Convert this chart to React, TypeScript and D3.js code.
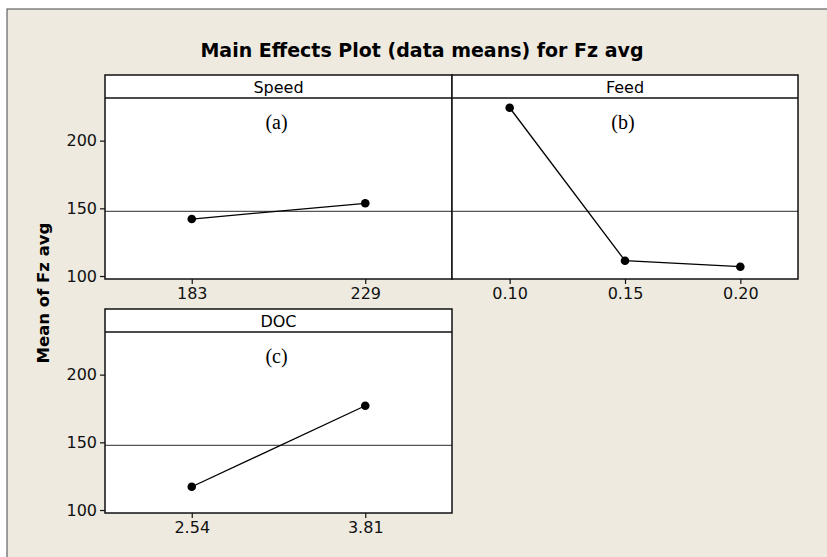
import * as React from 'react';
import * as d3 from 'd3';

// Main effects plot (data means) for Fz avg
const speedLevels = ['183', '229'];
const speedMeans = [142.1, 153.7];
const feedLevels = ['0.10', '0.15', '0.20'];
const feedMeans = [224.3, 111.3, 106.9];
const docLevels = ['2.54', '3.81'];
const docMeans = [117.2, 177.0];
const grandMean = 147.7;
const yTicks = [100, 150, 200];

const panels = [
  { name: 'Speed', tag: '(a)', levels: speedLevels, means: speedMeans, col: 0, row: 0 },
  { name: 'Feed', tag: '(b)', levels: feedLevels, means: feedMeans, col: 1, row: 0 },
  { name: 'DOC', tag: '(c)', levels: docLevels, means: docMeans, col: 0, row: 1 },
];

export default function App() {
  const ref = React.useRef<SVGSVGElement>(null);

  React.useEffect(() => {
    document.body.style.margin = '0';
    const svg = d3.select(ref.current);
    svg.selectAll('*').remove();

    const W = 827, H = 557;
    svg.append('rect').attr('width', W).attr('height', H).attr('fill', '#fff');
    svg.append('rect')
      .attr('x', 7).attr('y', 9).attr('width', W).attr('height', H)
      .attr('fill', '#eeeae0').attr('stroke', '#444').attr('stroke-width', 1);

    const font = 'DejaVu Sans, Verdana, sans-serif';

    svg.append('text')
      .attr('x', 422).attr('y', 57)
      .attr('text-anchor', 'middle')
      .style('font-family', font).style('font-weight', 'bold').style('font-size', '19px')
      .text('Main Effects Plot (data means) for Fz avg');

    svg.append('text')
      .attr('transform', 'translate(43,293) rotate(-90)')
      .attr('text-anchor', 'middle').attr('dominant-baseline', 'central')
      .style('font-family', font).style('font-weight', 'bold').style('font-size', '16.5px')
      .text('Mean of Fz avg');

    const colX = [105, 452, 798];
    const rowTop = [75, 309];
    const stripH = 23;
    const plotH = 181;

    panels.forEach((p) => {
      const x0 = colX[p.col], x1 = colX[p.col + 1];
      const top = rowTop[p.row];
      const pTop = top + stripH, pBot = pTop + plotH;

      const x = d3.scalePoint<string>().domain(p.levels).range([x0, x1]).padding(0.5);
      const y = d3.scaleLinear().domain([97.8, 231.5]).range([pBot, pTop]);

      const g = svg.append('g');
      g.append('rect')
        .attr('x', x0).attr('y', pTop).attr('width', x1 - x0).attr('height', plotH)
        .attr('fill', '#fff');
      g.append('rect')
        .attr('x', x0).attr('y', top).attr('width', x1 - x0).attr('height', stripH)
        .attr('fill', '#fff');

      g.append('text')
        .attr('x', (x0 + x1) / 2).attr('y', top + stripH / 2 + 1)
        .attr('text-anchor', 'middle').attr('dominant-baseline', 'central')
        .style('font-family', font).style('font-size', '16px')
        .text(p.name);

      g.append('text')
        .attr('x', (x0 + x1) / 2 - 2).attr('y', pTop + 24)
        .attr('text-anchor', 'middle').attr('dominant-baseline', 'central')
        .style('font-family', 'Liberation Serif, Times New Roman, serif').style('font-size', '20px')
        .text(p.tag);

      g.append('line')
        .attr('x1', x0).attr('x2', x1)
        .attr('y1', y(grandMean)).attr('y2', y(grandMean))
        .attr('stroke', '#555').attr('stroke-width', 1.2);

      const pts = p.levels.map((l, i) => [x(l)!, y(p.means[i])] as [number, number]);
      g.append('path')
        .attr('d', d3.line()(pts)!)
        .attr('fill', 'none').attr('stroke', '#000').attr('stroke-width', 1.3);
      g.selectAll('circle.pt').data(pts).enter().append('circle')
        .attr('cx', (d) => d[0]).attr('cy', (d) => d[1]).attr('r', 4.3)
        .attr('fill', '#000');

      // frame and strip divider
      g.append('rect')
        .attr('x', x0).attr('y', top).attr('width', x1 - x0).attr('height', stripH + plotH)
        .attr('fill', 'none').attr('stroke', '#111').attr('stroke-width', 1.5);
      g.append('line')
        .attr('x1', x0).attr('x2', x1).attr('y1', pTop).attr('y2', pTop)
        .attr('stroke', '#111').attr('stroke-width', 1.3);

      if (p.col === 0) {
        const ya = g.append('g')
          .attr('transform', `translate(${x0},0)`)
          .call(d3.axisLeft(y).tickValues(yTicks).tickSize(5).tickPadding(3));
        ya.select('.domain').remove();
        ya.selectAll('text').style('font-family', font).style('font-size', '16px').attr('fill', '#111');
        ya.selectAll('line').attr('stroke', '#111').attr('stroke-width', 1.2);
      }

      const xa = g.append('g')
        .attr('transform', `translate(0,${pBot})`)
        .call(d3.axisBottom(x).tickSize(5).tickPadding(4));
      xa.select('.domain').remove();
      xa.selectAll('text').style('font-family', font).style('font-size', '16px').attr('fill', '#111');
      xa.selectAll('line').attr('stroke', '#111').attr('stroke-width', 1.2);
    });
  }, []);

  return (
    <div>
      <svg ref={ref} width={827} height={557} style={{ display: 'block' }} />
    </div>
  );
}
